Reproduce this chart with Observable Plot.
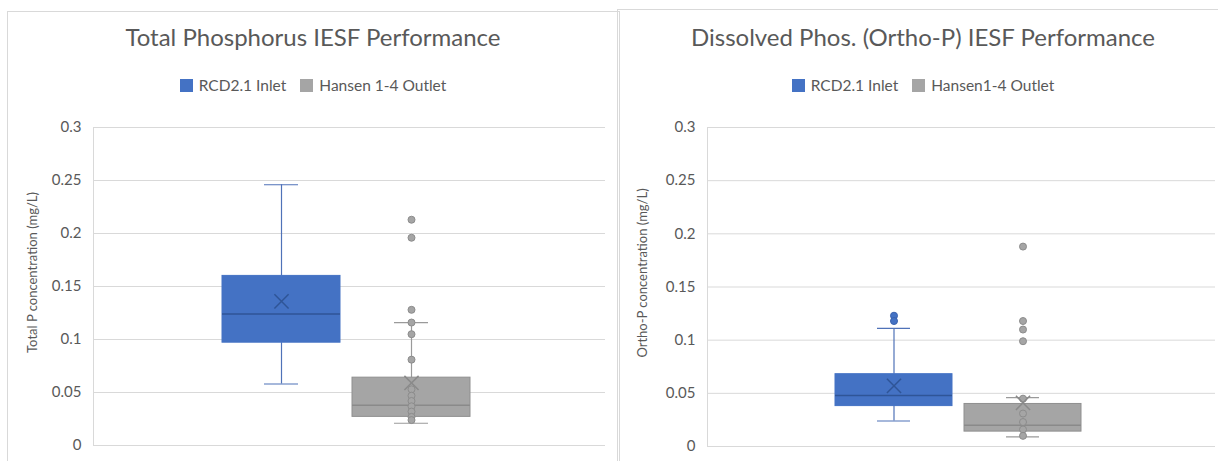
<!DOCTYPE html>
<html>
<head>
<meta charset="utf-8">
<script src="https://cdn.jsdelivr.net/npm/d3@7"></script>
<script src="https://cdn.jsdelivr.net/npm/@observablehq/plot@0.6"></script>
<style>
  html, body { margin: 0; padding: 0; background: #fff; width: 1218px; height: 461px; overflow: hidden; position: relative; font-family: Lato, "Open Sans", sans-serif; color: #595959; }
  .panel { position: absolute; box-sizing: border-box; border-top: 1px solid #d9d9d9; border-left: 1px solid #d9d9d9; border-right: 1px solid #d9d9d9; height: 470px; width: 613px; background: transparent; }
  .title { position: absolute; width: 612px; text-align: center; font-size: 24px; font-weight: 400; line-height: 24px; white-space: nowrap; color: #595959; }
  .legend { position: absolute; width: 612px; display: flex; justify-content: center; align-items: center; font-size: 15.5px; line-height: 16px; color: #595959; white-space: nowrap; }
  .legend .item { display: flex; align-items: center; margin: 0 7px; }
  .legend .sw { width: 13px; height: 13px; margin-right: 6px; }
  .chart { position: absolute; width: 612px; height: 360px; }
  .chart svg { max-width: none !important; }
</style>
</head>
<body>
<div class="panel" style="left:7px; top:11px;"></div>
<div class="panel" style="left:617px; top:9px;"></div>
<div class="title" id="t1" style="left:7px; top:25px;"></div>
<div class="title" id="t2" style="left:617px; top:25px;"></div>
<div class="legend" id="l1" style="left:7px; top:77px;"></div>
<div class="legend" id="l2" style="left:617px; top:77px;"></div>
<div class="chart" id="c1" style="left:7px; top:101px;"></div>
<div class="chart" id="c2" style="left:617px; top:101px;"></div>
<script>
// ---------- Data ----------
const yTicks = [0, 0.05, 0.1, 0.15, 0.2, 0.25, 0.3];

// Total Phosphorus chart
const tpTitle = "Total Phosphorus IESF Performance";
const tpYLabel = "Total P concentration (mg/L)";
const tpSeries = ["RCD2.1 Inlet", "Hansen 1-4 Outlet"];
const tpMin    = [0.058, 0.021];
const tpQ1     = [0.097, 0.027];
const tpMedian = [0.124, 0.038];
const tpQ3     = [0.160, 0.064];
const tpMax    = [0.246, 0.116];
const tpMean   = [0.136, 0.059];
const tpInletPoints  = [];
const tpOutletPoints = [0.213, 0.196, 0.128, 0.116, 0.105, 0.081, 0.053, 0.047, 0.042, 0.037, 0.032, 0.027, 0.024];

// Ortho-P chart
const opTitle = "Dissolved Phos. (Ortho-P) IESF Performance";
const opYLabel = "Ortho-P concentration (mg/L)";
const opSeries = ["RCD2.1 Inlet", "Hansen1-4 Outlet"];
const opMin    = [0.024, 0.009];
const opQ1     = [0.038, 0.014];
const opMedian = [0.048, 0.020];
const opQ3     = [0.068, 0.040];
const opMax    = [0.111, 0.046];
const opMean   = [0.057, 0.041];
const opInletPoints  = [0.123, 0.118];
const opOutletPoints = [0.188, 0.118, 0.110, 0.099, 0.045, 0.031, 0.023, 0.016, 0.010];

// ---------- Styles ----------
const STYLE = [
  {fill: "#4472C4", stroke: "#4472C4", median: "#2F5597", whisker: "#4F72B8", mean: "#2F5597", dotFill: "#4472C4", dotStroke: "#3A62AE"},
  {fill: "#A5A5A5", stroke: "#8F8F8F", median: "#8A8A8A", whisker: "#9A9A9A", mean: "#8A8A8A", dotFill: "#A5A5A5", dotStroke: "#8C8C8C"}
];

function buildRows(series, mn, q1, med, q3, mx, mean) {
  return series.map((s, i) => ({series: s, i, min: mn[i], q1: q1[i], median: med[i], q3: q3[i], max: mx[i], mean: mean[i]}));
}
function buildPoints(series, inlet, outlet) {
  return [
    ...inlet.map(v => ({series: series[0], i: 0, value: v})),
    ...outlet.map(v => ({series: series[1], i: 1, value: v}))
  ];
}

function legend(el, series) {
  el.innerHTML = series.map((s, i) =>
    `<span class="item"><span class="sw" style="background:${STYLE[i].fill}"></span>${s}</span>`).join("");
}

function chart(series, rows, points, yLabel, m) {
  const axisLine = (index, scales, values, dimensions) => {
    const g = d3.create("svg:line")
      .attr("x1", dimensions.marginLeft + 0.5).attr("x2", dimensions.marginLeft + 0.5)
      .attr("y1", dimensions.marginTop).attr("y2", dimensions.height - dimensions.marginBottom)
      .attr("stroke", "#d9d9d9");
    return g.node();
  };
  return Plot.plot({
    width: 612,
    height: 360,
    marginLeft: m.left,
    marginRight: m.right,
    marginTop: m.top,
    marginBottom: m.bottom,
    style: {fontFamily: "Lato, 'Open Sans', sans-serif", fontSize: "15px", color: "#595959", background: "transparent", overflow: "visible", maxWidth: "none"},
    x: {type: "band", domain: series, paddingInner: 0.09, paddingOuter: 1.0, align: 0.49, axis: null},
    y: {domain: [0, 0.3], axis: null},
    color: {type: "identity"},
    marks: [
      Plot.gridY(yTicks, {stroke: "#d9d9d9", strokeOpacity: 1}),
      axisLine,
      Plot.axisY(yTicks, {tickSize: 0, tickPadding: 12, tickFormat: d => String(d), fontSize: 15, fill: "#595959", label: null}),
      Plot.text([yLabel], {frameAnchor: "left", textAnchor: "middle", rotate: -90, dx: m.labelDx, dy: -14, fontSize: 13, fill: "#595959"}),
      // whiskers
      Plot.ruleX(rows, {x: "series", y1: "min", y2: "q1", stroke: d => STYLE[d.i].whisker, strokeWidth: 1.2}),
      Plot.ruleX(rows, {x: "series", y1: "q3", y2: "max", stroke: d => STYLE[d.i].whisker, strokeWidth: 1.2}),
      Plot.tickY(rows, {x: "series", y: "min", inset: 42, stroke: d => STYLE[d.i].whisker, strokeWidth: 1.2}),
      Plot.tickY(rows, {x: "series", y: "max", inset: 42, stroke: d => STYLE[d.i].whisker, strokeWidth: 1.2}),
      // boxes
      Plot.barY(rows, {x: "series", y1: "q1", y2: "q3", fill: d => STYLE[d.i].fill, stroke: d => STYLE[d.i].stroke, strokeWidth: 1}),
      Plot.tickY(rows, {x: "series", y: "median", stroke: d => STYLE[d.i].median, strokeWidth: 1.5}),
      // points
      Plot.dot(points, {x: "series", y: "value", r: 3.5, fill: d => STYLE[d.i].dotFill, stroke: d => STYLE[d.i].dotStroke, strokeWidth: 1}),
      // mean
      Plot.dot(rows, {x: "series", y: "mean", symbol: "times", r: 6.5, stroke: d => STYLE[d.i].mean, strokeWidth: 1.5})
    ]
  });
}

document.getElementById("t1").textContent = tpTitle;
document.getElementById("t2").textContent = opTitle;
legend(document.getElementById("l1"), tpSeries);
legend(document.getElementById("l2"), opSeries);

const tpRows = buildRows(tpSeries, tpMin, tpQ1, tpMedian, tpQ3, tpMax, tpMean);
const tpPts = buildPoints(tpSeries, tpInletPoints, tpOutletPoints);
const opRows = buildRows(opSeries, opMin, opQ1, opMedian, opQ3, opMax, opMean);
const opPts = buildPoints(opSeries, opInletPoints, opOutletPoints);

document.getElementById("c1").appendChild(chart(tpSeries, tpRows, tpPts, tpYLabel, {left: 86, right: 14, top: 26, bottom: 16, labelDx: -61}));
document.getElementById("c2").appendChild(chart(opSeries, opRows, opPts, opYLabel, {left: 90, right: 14, top: 26, bottom: 15, labelDx: -65}));
</script>
</body>
</html>
